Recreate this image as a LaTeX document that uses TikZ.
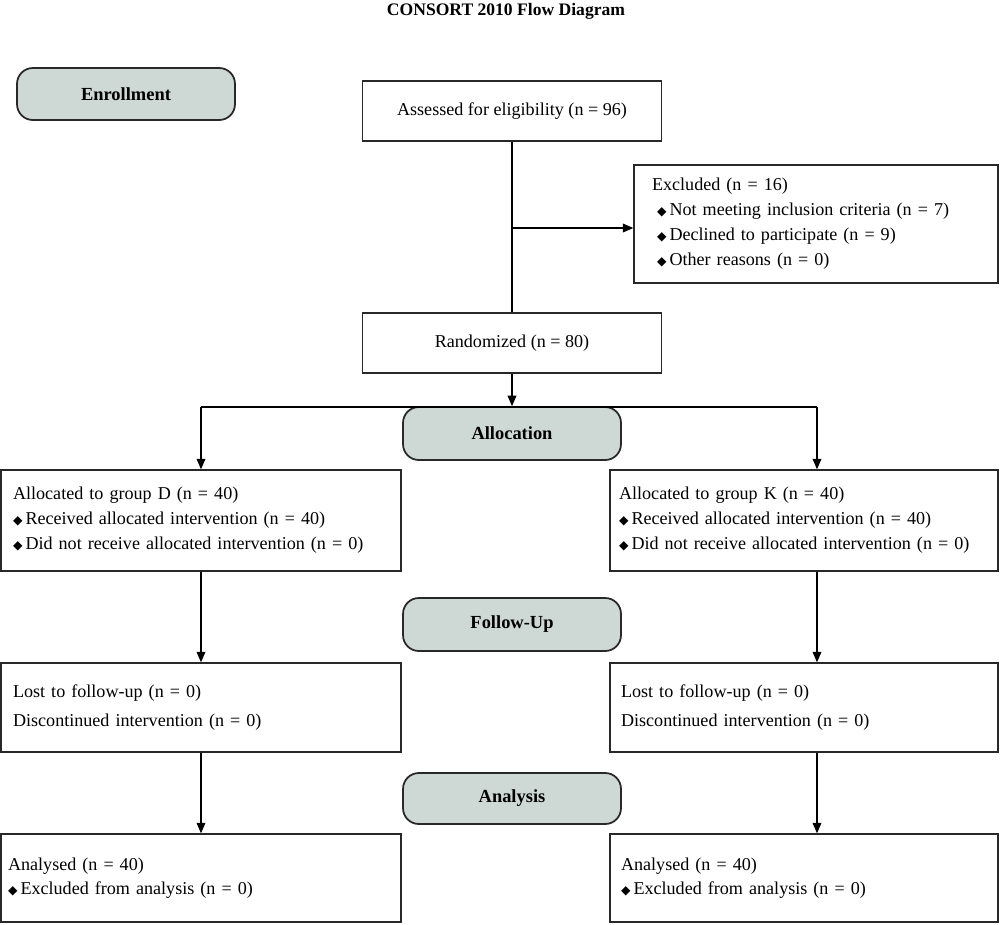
\documentclass[tikz,border=0pt]{standalone}
\usepackage{fontspec}
\setmainfont{Liberation Serif}
\newfontfamily\symfont{DejaVu Sans}
\usetikzlibrary{arrows.meta}
\definecolor{stagegray}{RGB}{206,216,213}
\definecolor{linegray}{RGB}{40,40,40}
\newcommand\dmd{{\symfont\fontsize{7}{7}\selectfont ◆}\,}
\begin{document}
\begin{tikzpicture}[x=0.02cm,y=-0.02cm,
  box/.style={draw=linegray, line width=0.8pt, rectangle, inner ysep=0pt,
    font=\fontsize{10.3}{14.2}\selectfont},
  lbox/.style={box, align=left},
  cbox/.style={box, align=center, inner xsep=0pt},
  stage/.style={draw=linegray, line width=1pt, rounded corners=9pt, fill=stagegray,
    minimum width=4.36cm, inner sep=0pt, font=\bfseries\fontsize{10.5}{12}\selectfont},
  arr/.style={-{Triangle[length=6pt,width=5pt]}, line width=0.7pt},
  conn/.style={line width=0.7pt}]
\useasboundingbox (0,0) rectangle (1000,924);

\node[font=\bfseries\fontsize{10}{12}\selectfont] (title) at (506,11) {CONSORT 2010 Flow Diagram};

\node[stage, minimum height=1.04cm] (enroll) at (126,94) {Enrollment};

\node[cbox, minimum width=5.98cm, minimum height=1.2cm] (assess) at (512,111) {Assessed for eligibility (n = 96)};

\node[lbox, inner xsep=0.36cm, text width=6.56cm, minimum height=2.36cm] (excl) at (816,224)
  {Excluded (n = 16)\\
   \hspace*{0.1cm}\dmd Not meeting inclusion criteria (n = 7)\\
   \hspace*{0.1cm}\dmd Declined to participate (n = 9)\\
   \hspace*{0.1cm}\dmd Other reasons (n = 0)};

\node[cbox, minimum width=5.98cm, minimum height=1.2cm] (rand) at (512,343) {Randomized (n = 80)};

\node[stage, minimum height=1.06cm] (alloc) at (512,433.5) {Allocation};

\node[lbox, inner xsep=0.24cm, text width=7.52cm, minimum height=2.02cm] (allocD) at (201,520.5)
  {Allocated to group D (n = 40)\\
   \dmd Received allocated intervention (n = 40)\\
   \dmd Did not receive allocated intervention (n = 0)};

\node[lbox, inner xsep=0.18cm, text width=7.4cm, minimum height=2.02cm] (allocK) at (804,520.5)
  {Allocated to group K (n = 40)\\
   \dmd Received allocated intervention (n = 40)\\
   \dmd Did not receive allocated intervention (n = 0)};

\node[stage, minimum height=1.06cm] (follow) at (512,624.5) {Follow-Up};

\node[lbox, inner xsep=0.24cm, text width=7.52cm, minimum height=1.78cm,
  font=\fontsize{10.3}{16.4}\selectfont] (lostD) at (201,707.5)
  {Lost to follow-up (n = 0)\\ Discontinued intervention (n = 0)};

\node[lbox, inner xsep=0.22cm, text width=7.32cm, minimum height=1.78cm,
  font=\fontsize{10.3}{16.4}\selectfont] (lostK) at (804,707.5)
  {Lost to follow-up (n = 0)\\ Discontinued intervention (n = 0)};

\node[stage, minimum height=1.02cm] (analysis) at (512,798.5) {Analysis};

\node[lbox, inner xsep=0.14cm, text width=7.72cm, minimum height=1.76cm,
  font=\fontsize{10.3}{13.6}\selectfont] (anaD) at (201,878)
  {Analysed (n = 40)\\ \dmd Excluded from analysis (n = 0)};

\node[lbox, inner xsep=0.22cm, text width=7.32cm, minimum height=1.76cm,
  font=\fontsize{10.3}{13.6}\selectfont] (anaK) at (804,878)
  {Analysed (n = 40)\\ \dmd Excluded from analysis (n = 0)};

\coordinate (exclTap) at (512,228);
\coordinate (splitL) at (201,407);
\coordinate (splitR) at (817,407);

\draw[conn] (assess.south) -- (rand.north);
\draw[arr] (exclTap) -- (exclTap -| excl.west);
\draw[arr] (rand.south) -- (alloc.north);
\draw[conn] (splitL) -- (splitR);
\draw[arr] (splitL) -- (allocD.north);
\draw[arr] (splitR) -- (splitR |- allocK.north);
\draw[arr] (allocD.south) -- (lostD.north);
\draw[arr] (allocK.south -| splitR) -- (lostK.north -| splitR);
\draw[arr] (lostD.south) -- (anaD.north);
\draw[arr] (lostK.south -| splitR) -- (anaK.north -| splitR);
\end{tikzpicture}
\end{document}
